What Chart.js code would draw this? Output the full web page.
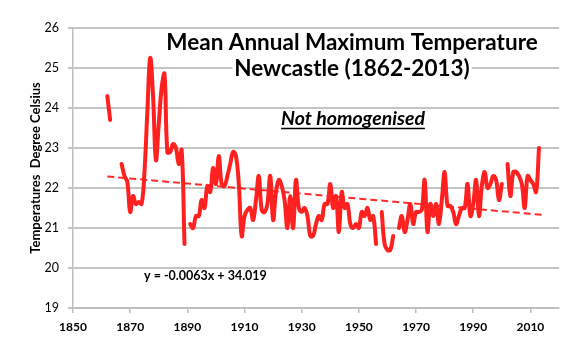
<!DOCTYPE html>
<html>
<head>
<meta charset="utf-8">
<title>Mean Annual Maximum Temperature - Newcastle</title>
<script src="https://cdn.jsdelivr.net/npm/chart.js@4.4.1/dist/chart.umd.min.js"></script>
<style>
    html, body { margin: 0; padding: 0; background: #ffffff; }
    #wrap { position: relative; width: 583px; height: 348px; }
</style>
</head>
<body>
<div id="wrap"><canvas id="tempChart"></canvas></div>
<script>

// ==========================================
// Data
// ==========================================

const years = [
    1862, 1863, 1864, 1865, 1866, 1867, 1868, 1869,
    1870, 1871, 1872, 1873, 1874, 1875, 1876, 1877, 1878, 1879,
    1880, 1881, 1882, 1883, 1884, 1885, 1886, 1887, 1888, 1889,
    1890, 1891, 1892, 1893, 1894, 1895, 1896, 1897, 1898, 1899,
    1900, 1901, 1902, 1903, 1904, 1905, 1906, 1907, 1908, 1909,
    1910, 1911, 1912, 1913, 1914, 1915, 1916, 1917, 1918, 1919,
    1920, 1921, 1922, 1923, 1924, 1925, 1926, 1927, 1928, 1929,
    1930, 1931, 1932, 1933, 1934, 1935, 1936, 1937, 1938, 1939,
    1940, 1941, 1942, 1943, 1944, 1945, 1946, 1947, 1948, 1949,
    1950, 1951, 1952, 1953, 1954, 1955, 1956, 1957, 1958, 1959,
    1960, 1961, 1962, 1963, 1964, 1965, 1966, 1967, 1968, 1969,
    1970, 1971, 1972, 1973, 1974, 1975, 1976, 1977, 1978, 1979,
    1980, 1981, 1982, 1983, 1984, 1985, 1986, 1987, 1988, 1989,
    1990, 1991, 1992, 1993, 1994, 1995, 1996, 1997, 1998, 1999,
    2000, 2001, 2002, 2003, 2004, 2005, 2006, 2007, 2008, 2009,
    2010, 2011, 2012, 2013
];

// mean annual maximum (deg C), null = year missing from the record
const maxTemps = [
    24.3, 23.7, null, null, null, 22.6, 22.3, 22.15,
    21.4, 21.8, 21.6, 21.65, 21.6, 22.4, 23.9, 25.25, 24.3, 22.7,
    23.6, 24.5, 24.85, 22.9, 22.9, 23.1, 23.0, 22.6, 22.95, 20.6,
    null, 21.1, 21.0, 21.3, 21.3, 21.7, 21.5, 22.05, 21.9, 22.5,
    22.1, 22.8, 22.1, 22.05, 22.3, 22.6, 22.9, 22.8, 22.1, 20.8,
    21.3, 21.45, 21.5, 21.2, 21.7, 22.3, 21.45, 21.4, 21.6, 22.3,
    21.2, 21.9, 22.2, 22.05, 21.7, 21.0, 21.8, 21.0, 22.2, 21.5,
    21.4, 21.5, 21.3, 20.8, 20.8, 21.1, 21.3, 21.2, 21.6, 21.6,
    22.1, 21.5, 21.8, 20.9, 21.9, 21.5, 21.6, 21.1, 21.0, 21.1,
    21.0, 21.4, 21.3, 21.5, 21.2, 21.3, 20.6, null, 21.4, 20.6,
    20.45, 20.45, 20.8, null, 21.0, 21.3, 20.9, 21.2, 21.6, 21.1,
    21.4, 21.4, 21.45, 22.2, 20.9, 21.6, 21.3, 21.6, 21.1, 21.7,
    22.4, 21.55, 21.55, 21.4, 21.1, 21.3, 21.5, 21.5, 22.1, 21.3,
    21.6, 22.2, 21.3, 22.05, 22.4, 22.0, 22.1, 22.3, 22.2, 21.7,
    22.1, null, 22.6, 21.8, 22.4, 22.4, 22.3, 22.1, 21.5, 22.3,
    22.2, 22.1, 21.9, 23.0
];

// linear trend y = -0.0063x + 34.019
const trendSlope = -0.0063;
const trendIntercept = 34.019;
const trendYears = [1862, 2014];

const xTicks = [1850, 1870, 1890, 1910, 1930, 1950, 1970, 1990, 2010];
const yTicks = [19, 20, 21, 22, 23, 24, 25, 26];

const chartTitle = ["Mean Annual Maximum Temperature", "Newcastle (1862-2013)"];
const noteText = "Not homogenised";
const equationText = "y = -0.0063x + 34.019";
const yAxisTitle = "Temperatures  Degree Celsius";


// ==========================================
// Text drawn inside the plot
// ==========================================

const plotText = {

    id: "plotText",

    afterDraw(chart) {

        const ctx = chart.ctx;

        ctx.save();

        ctx.fillStyle = "#000000";
        ctx.textAlign = "center";
        ctx.textBaseline = "alphabetic";

        // title, white box behind each line hides the grid line
        ctx.font = "bold 22.5px Lato";

        const titleBaselines = [50, 76];

        chartTitle.forEach((line, i) => {

            const w = ctx.measureText(line).width;

            ctx.fillStyle = "#ffffff";
            ctx.fillRect(352 - w / 2 - 2, titleBaselines[i] - 18, w + 4, 24);

            ctx.fillStyle = "#000000";
            ctx.fillText(line, 352, titleBaselines[i]);

        });

        // underlined note
        ctx.font = "italic bold 19.5px Lato";
        ctx.fillText(noteText, 353, 125);

        const noteW = ctx.measureText(noteText).width;

        ctx.strokeStyle = "#000000";
        ctx.lineWidth = 1.3;
        ctx.beginPath();
        ctx.moveTo(353 - noteW / 2, 128.5);
        ctx.lineTo(353 + noteW / 2, 128.5);
        ctx.stroke();

        // trend equation
        ctx.font = "bold 12.5px Lato";
        ctx.textAlign = "left";
        ctx.fillText(equationText, 144, 280);

        ctx.restore();

    }

};


// ==========================================
// Chart
// ==========================================

const tempPoints = years.map((yr, i) => ({ x: yr, y: maxTemps[i] }));

const trendPoints = trendYears.map(yr => ({ x: yr, y: trendSlope * yr + trendIntercept }));

const ctx = document.getElementById("tempChart").getContext("2d");

new Chart(ctx, {

    type: "line",

    data: {

        datasets: [

            {
                label: "Max temperature",
                data: tempPoints,
                borderColor: "#ff2020",
                borderWidth: 4,
                borderCapStyle: "round",
                borderJoinStyle: "round",
                pointRadius: 0,
                tension: 0.4,
                spanGaps: false,
                fill: false
            },

            {
                label: "Linear trend",
                data: trendPoints,
                borderColor: "#ff2a2a",
                borderWidth: 2,
                borderDash: [7, 4],
                pointRadius: 0,
                tension: 0,
                fill: false
            }

        ]

    },

    options: {

        responsive: true,
        maintainAspectRatio: false,
        devicePixelRatio: 1,
        animation: false,

        layout: {
            padding: { top: 28, right: 24, bottom: 0, left: 0 }
        },

        plugins: {
            legend: { display: false },
            tooltip: { enabled: false }
        },

        scales: {

            x: {
                type: "linear",
                min: 1850,
                max: 2020,
                afterBuildTicks: scale => {
                    scale.ticks = xTicks.map(v => ({ value: v }));
                },
                afterFit: scale => {
                    scale.height = 40;
                },
                ticks: {
                    color: "#000000",
                    padding: 7,
                    maxRotation: 0,
                    font: { family: "Lato", size: 12, weight: "bold" },
                    callback: v => String(v)
                },
                grid: {
                    drawOnChartArea: false,
                    drawTicks: true,
                    tickLength: 5,
                    color: "#bdbdbd",
                    lineWidth: 1.5
                },
                border: {
                    color: "#bdbdbd",
                    width: 1.5
                }
            },

            y: {
                min: 19,
                max: 26,
                afterBuildTicks: scale => {
                    scale.ticks = yTicks.map(v => ({ value: v }));
                },
                afterFit: scale => {
                    scale.width = 73;
                },
                ticks: {
                    color: "#000000",
                    padding: 9,
                    font: { family: "Lato", size: 12.5 }
                },
                grid: {
                    color: "#c4c4c4",
                    lineWidth: 2,
                    drawTicks: true,
                    tickLength: 5
                },
                border: {
                    color: "#bdbdbd",
                    width: 1.5
                },
                title: {
                    display: true,
                    text: yAxisTitle,
                    color: "#000000",
                    padding: { top: 28, bottom: 0 },
                    font: { family: "Lato", size: 13, weight: "bold" }
                }
            }

        }

    },

    plugins: [plotText]

});

</script>
</body>
</html>
